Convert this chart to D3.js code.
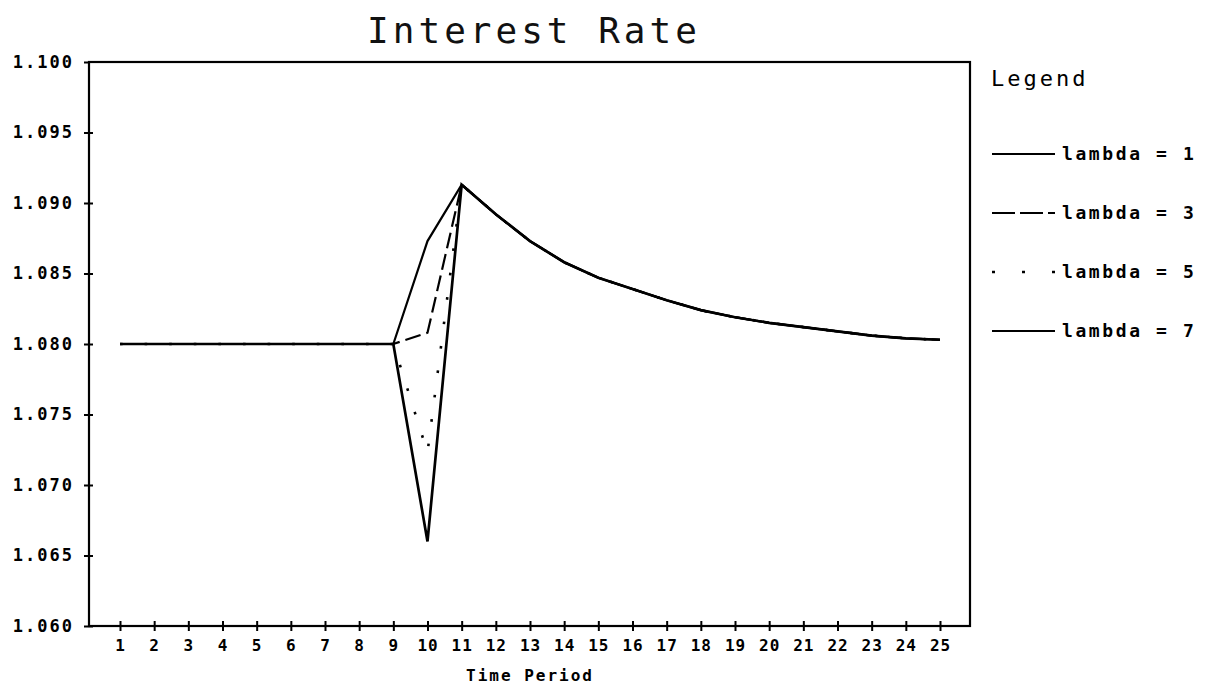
<!DOCTYPE html>
<html>
<head>
<meta charset="utf-8">
<script src="https://cdn.jsdelivr.net/npm/d3@7"></script>
<style>
  html, body { margin: 0; padding: 0; background: #fff; }
  svg { display: block; }
</style>
</head>
<body>
<svg id="chart" width="1221" height="689"></svg>
<script>
const periods = [1,2,3,4,5,6,7,8,9,10,11,12,13,14,15,16,17,18,19,20,21,22,23,24,25];
const lambda1 = [1.0800,1.0800,1.0800,1.0800,1.0800,1.0800,1.0800,1.0800,1.0800,1.0873,1.0913,1.0892,1.0873,1.0858,1.0847,1.0839,1.0831,1.0824,1.0819,1.0815,1.0812,1.0809,1.0806,1.0804,1.0803];
const lambda3 = [1.0800,1.0800,1.0800,1.0800,1.0800,1.0800,1.0800,1.0800,1.0800,1.0808,1.0913,1.0892,1.0873,1.0858,1.0847,1.0839,1.0831,1.0824,1.0819,1.0815,1.0812,1.0809,1.0806,1.0804,1.0803];
const lambda5 = [1.0800,1.0800,1.0800,1.0800,1.0800,1.0800,1.0800,1.0800,1.0800,1.0723,1.0913,1.0892,1.0873,1.0858,1.0847,1.0839,1.0831,1.0824,1.0819,1.0815,1.0812,1.0809,1.0806,1.0804,1.0803];
const lambda7 = [1.0800,1.0800,1.0800,1.0800,1.0800,1.0800,1.0800,1.0800,1.0800,1.0660,1.0913,1.0892,1.0873,1.0858,1.0847,1.0839,1.0831,1.0824,1.0819,1.0815,1.0812,1.0809,1.0806,1.0804,1.0803];
const yTicks = [1.060,1.065,1.070,1.075,1.080,1.085,1.090,1.095,1.100];
const seriesNames = ["lambda = 1","lambda = 3","lambda = 5","lambda = 7"];
const titleText = "Interest Rate";
const xTitle = "Time Period";
const legendTitle = "Legend";

const FONT = "DejaVu Sans Mono";
const svg = d3.select("#chart");
const frame = {left: 89, right: 970, top: 62, bottom: 626};

const x = d3.scaleLinear().domain([1, 25]).range([120, 940]);
const y = d3.scaleLinear().domain([1.060, 1.100]).range([626, 62]);

const styles = [
  {dash: null, width: 2.2, legendDash: null},
  {dash: "16,6", width: 2.2, legendDash: "23,5"},
  {dash: "2.6,22", width: 2.6, legendDash: "3,27"},
  {dash: null, width: 2.7, legendDash: null}
];
const allSeries = [lambda1, lambda3, lambda5, lambda7];

// Title
svg.append("text")
  .attr("x", 534).attr("y", 43)
  .attr("text-anchor","middle")
  .attr("font-family", FONT)
  .attr("font-size", 36).attr("letter-spacing", 4)
  .attr("fill","#111")
  .text(titleText);

const g = svg.append("g");
g.append("rect")
  .attr("x", frame.left).attr("y", frame.top)
  .attr("width", frame.right - frame.left).attr("height", frame.bottom - frame.top)
  .attr("fill","none").attr("stroke","#000").attr("stroke-width", 2.2);

// Y axis
const yAxis = d3.axisLeft(y).tickValues(yTicks).tickFormat(d3.format(".3f")).tickSize(0).tickPadding(15);
const ya = g.append("g").attr("transform", `translate(${frame.left},0)`).call(yAxis);
ya.select(".domain").remove();
ya.selectAll("text").attr("font-size", 17).attr("font-weight","bold")
  .attr("letter-spacing", 2).attr("fill","#000").attr("font-family", FONT);
ya.selectAll(".tick").append("line")
  .attr("x1", -5).attr("x2", d => d === 1.100 ? 0 : 4)
  .attr("stroke","#000").attr("stroke-width", 2);

// X axis
const xAxis = d3.axisBottom(x).tickValues(periods).tickFormat(d3.format("d")).tickSize(0).tickPadding(14);
const xa = g.append("g").attr("transform", `translate(0,${frame.bottom})`).call(xAxis);
xa.select(".domain").remove();
xa.selectAll("text").attr("font-size", 16).attr("font-weight","bold")
  .attr("letter-spacing", 1).attr("fill","#000").attr("font-family", FONT);
xa.selectAll(".tick").append("line")
  .attr("y1", -5).attr("y2", 5).attr("stroke","#000").attr("stroke-width", 2);

svg.append("text")
  .attr("x", 530).attr("y", 681).attr("text-anchor","middle")
  .attr("font-family", FONT).attr("font-weight","bold")
  .attr("font-size", 16).attr("letter-spacing", 2)
  .attr("fill","#000").text(xTitle);

// Lines
const line = d3.line().x((d,i) => x(periods[i])).y(d => y(d));
const drawOrder = [2, 1, 3, 0];
drawOrder.forEach(k => {
  g.append("path").datum(allSeries[k])
    .attr("d", line)
    .attr("fill","none").attr("stroke","#000")
    .attr("stroke-width", styles[k].width)
    .attr("stroke-dasharray", styles[k].dash)
    .attr("stroke-linejoin","miter");
});

// Legend
svg.append("text")
  .attr("x", 991).attr("y", 86)
  .attr("font-family", FONT).attr("font-size", 22)
  .attr("letter-spacing", 3).attr("fill","#000").text(legendTitle);

const legY = [154, 213, 272, 331];
seriesNames.forEach((name, k) => {
  svg.append("line")
    .attr("x1", 992).attr("x2", 1055)
    .attr("y1", legY[k]).attr("y2", legY[k])
    .attr("stroke","#000").attr("stroke-width", k === 2 ? 2.6 : 2)
    .attr("stroke-dasharray", styles[k].legendDash);
  svg.append("text")
    .attr("x", 1062).attr("y", legY[k] + 6)
    .attr("font-family", FONT).attr("font-weight","bold")
    .attr("font-size", 18).attr("letter-spacing", 2.6)
    .attr("fill","#000").text(name);
});
</script>
</body>
</html>
